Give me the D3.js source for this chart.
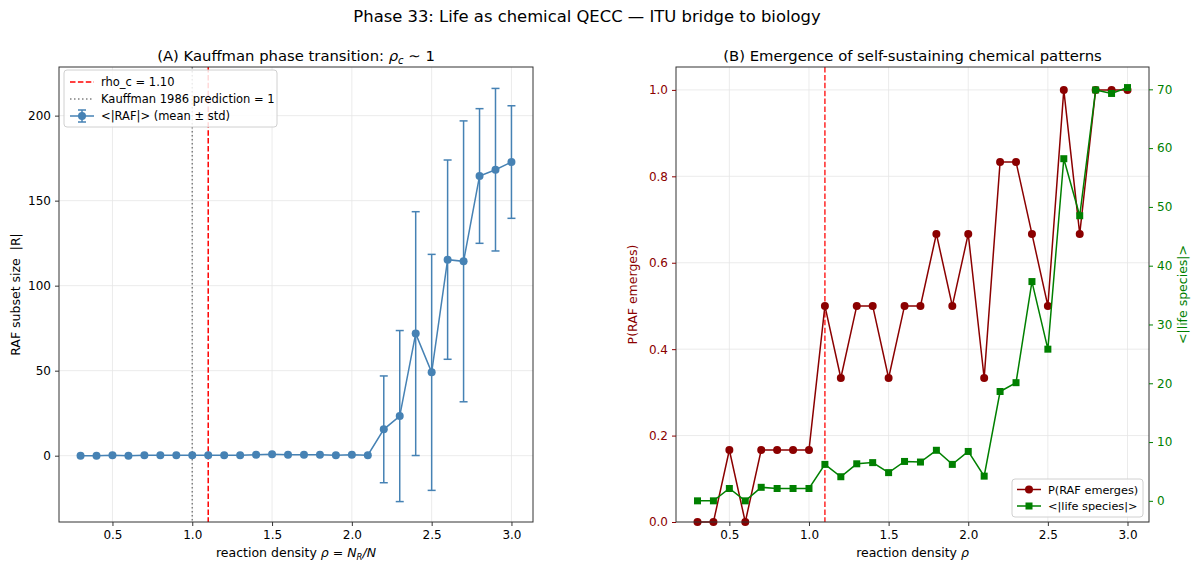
<!DOCTYPE html>
<html>
<head>
<meta charset="utf-8">
<script src="https://cdn.jsdelivr.net/npm/d3@7"></script>
<style>
  body { margin: 0; background: #fff; }
  svg text { font-family: "DejaVu Sans", sans-serif; }
</style>
</head>
<body>
<div id="chart"></div>
<script>
// ---- data ----
var rho = [0.3, 0.4, 0.5, 0.6, 0.7, 0.8, 0.9, 1.0, 1.1, 1.2, 1.3, 1.4, 1.5, 1.6,
           1.7, 1.8, 1.9, 2.0, 2.1, 2.2, 2.3, 2.4, 2.5, 2.6, 2.7, 2.8, 2.9, 3.0];

// panel A: mean RAF size and std
var rafMean = [0, 0, 0.2, 0, 0.3, 0.3, 0.3, 0.3, 0.3, 0.3, 0.3, 0.6, 0.8, 0.6,
               0.6, 0.6, 0.3, 0.5, 0.3, 15.5, 23.3, 71.8, 49, 115.3, 114.3, 164.5, 168.2, 172.7];
var rafStd  = [0, 0, 0, 0, 0, 0, 0, 0, 0, 0, 0, 0, 0, 0,
               0, 0, 0, 0, 0, 31.4, 50.3, 71.7, 69.4, 58.6, 82.6, 39.6, 47.8, 33.1];

// panel B: emergence probability and life species count
var pEmerge = [0, 0, 1/6, 0, 1/6, 1/6, 1/6, 1/6, 0.5, 1/3, 0.5, 0.5, 1/3, 0.5,
               0.5, 2/3, 0.5, 2/3, 1/3, 5/6, 5/6, 2/3, 0.5, 1, 2/3, 1, 1, 1];
var lifeSpecies = [0, 0, 2.1, 0, 2.3, 2.1, 2.1, 2.1, 6.2, 4.1, 6.3, 6.5, 4.8, 6.7,
                   6.6, 8.6, 6.2, 8.4, 4.2, 18.6, 20.1, 37.3, 25.8, 58.2, 48.5, 69.9, 69.3, 70.3];

var rhoC = 1.10;
var rhoKauffman = 1.0;
var xTicks = [0.5, 1.0, 1.5, 2.0, 2.5, 3.0];
var yTicksA = [0, 50, 100, 150, 200];
var yTicksP = [0.0, 0.2, 0.4, 0.6, 0.8, 1.0];
var yTicksLife = [0, 10, 20, 30, 40, 50, 60, 70];

// ---- layout ----
var W = 1200, H = 573;
var svg = d3.select("#chart").append("svg")
  .attr("width", W)
  .attr("height", H);

var blue = "#4682b4", darkred = "#8b0000", green = "#008000";
var gridColor = "#e6e6e6";

svg.append("text")
  .attr("x", 587).attr("y", 22)
  .attr("text-anchor", "middle")
  .attr("font-size", 16.4)
  .text("Phase 33: Life as chemical QECC \u2014 ITU bridge to biology");

var A = {left: 59, right: 533, top: 67, bottom: 522};
var B = {left: 676, right: 1149, top: 67, bottom: 522};

var xDom = [0.165, 3.135];

// ================= panel A =================
var xA = d3.scaleLinear().domain(xDom).range([A.left, A.right]);
var yA = d3.scaleLinear().domain([-39, 228.6]).range([A.bottom, A.top]);

var gA = svg.append("g");

// grid
gA.selectAll(".gx").data(xTicks).enter().append("line")
  .attr("x1", d => xA(d)).attr("x2", d => xA(d))
  .attr("y1", A.top).attr("y2", A.bottom)
  .attr("stroke", gridColor).attr("stroke-width", 0.8);
gA.selectAll(".gy").data(yTicksA).enter().append("line")
  .attr("x1", A.left).attr("x2", A.right)
  .attr("y1", d => yA(d)).attr("y2", d => yA(d))
  .attr("stroke", gridColor).attr("stroke-width", 0.8);

// reference lines
gA.append("line")
  .attr("x1", xA(rhoKauffman)).attr("x2", xA(rhoKauffman))
  .attr("y1", A.top).attr("y2", A.bottom)
  .attr("stroke", "gray").attr("stroke-width", 1.5)
  .attr("stroke-dasharray", "1.5,2.5");
gA.append("line")
  .attr("x1", xA(rhoC)).attr("x2", xA(rhoC))
  .attr("y1", A.top).attr("y2", A.bottom)
  .attr("stroke", "red").attr("stroke-width", 1.5)
  .attr("stroke-dasharray", "5.5,2.4");

// error bars
var ptsA = rho.map((r, i) => ({x: r, y: rafMean[i], s: rafStd[i]}));
var errA = gA.selectAll(".err").data(ptsA.filter(d => d.s > 0)).enter().append("g");
errA.append("line")
  .attr("x1", d => xA(d.x)).attr("x2", d => xA(d.x))
  .attr("y1", d => yA(d.y - d.s)).attr("y2", d => yA(d.y + d.s))
  .attr("stroke", blue).attr("stroke-width", 1.5);
[-1, 1].forEach(function(sg) {
  errA.append("line")
    .attr("x1", d => xA(d.x) - 4).attr("x2", d => xA(d.x) + 4)
    .attr("y1", d => yA(d.y + sg * d.s)).attr("y2", d => yA(d.y + sg * d.s))
    .attr("stroke", blue).attr("stroke-width", 1.5);
});

gA.append("path")
  .datum(ptsA)
  .attr("d", d3.line().x(d => xA(d.x)).y(d => yA(d.y)))
  .attr("fill", "none").attr("stroke", blue).attr("stroke-width", 1.5);
gA.selectAll(".dot").data(ptsA).enter().append("circle")
  .attr("cx", d => xA(d.x)).attr("cy", d => yA(d.y))
  .attr("r", 4).attr("fill", blue);

// frame
gA.append("rect")
  .attr("x", A.left).attr("y", A.top)
  .attr("width", A.right - A.left).attr("height", A.bottom - A.top)
  .attr("fill", "none").attr("stroke", "#333").attr("stroke-width", 1);

// axes
var axA = gA.append("g").attr("transform", "translate(0," + A.bottom + ")")
  .call(d3.axisBottom(xA).tickValues(xTicks).tickFormat(d3.format(".1f")).tickSize(4).tickPadding(4));
var ayA = gA.append("g").attr("transform", "translate(" + A.left + ",0)")
  .call(d3.axisLeft(yA).tickValues(yTicksA).tickSize(4).tickPadding(4));
[axA, ayA].forEach(function(a) {
  a.select(".domain").remove();
  a.selectAll("text").attr("font-size", 12).attr("fill", "#000")
    .style("font-family", "DejaVu Sans, sans-serif");
  a.selectAll("line").attr("stroke", "#333");
});

// titles and labels
var tA = svg.append("text")
  .attr("x", (A.left + A.right) / 2).attr("y", 61)
  .attr("text-anchor", "middle").attr("font-size", 14.8);
tA.append("tspan").text("(A) Kauffman phase transition: ");
tA.append("tspan").attr("font-style", "italic").text("\u03c1");
tA.append("tspan").attr("font-style", "italic").attr("font-size", 10).attr("dy", 3).text("c");
tA.append("tspan").attr("dy", -3).text(" \u223c 1");

var xlA = svg.append("text")
  .attr("x", (A.left + A.right) / 2).attr("y", 557)
  .attr("text-anchor", "middle").attr("font-size", 12.5);
xlA.append("tspan").text("reaction density ");
xlA.append("tspan").attr("font-style", "italic").text("\u03c1");
xlA.append("tspan").text(" = ");
xlA.append("tspan").attr("font-style", "italic").text("N");
xlA.append("tspan").attr("font-style", "italic").attr("font-size", 8.5).attr("dy", 3).text("R");
xlA.append("tspan").attr("dy", -3).attr("font-style", "italic").text("/N");

svg.append("text")
  .attr("transform", "translate(20," + ((A.top + A.bottom) / 2) + ") rotate(-90)")
  .attr("text-anchor", "middle").attr("font-size", 12.5)
  .attr("xml:space", "preserve")
  .text("RAF subset size  |R|");

// legend A
var legA = svg.append("g").attr("transform", "translate(64,70)");
legA.append("rect").attr("width", 213).attr("height", 57).attr("rx", 3)
  .attr("fill", "#fff").attr("fill-opacity", 0.85)
  .attr("stroke", "#d0d0d0").attr("stroke-width", 1);
var legItemsA = [
  {label: "rho_c = 1.10", color: "red", dash: "5.5,2.4", marker: false},
  {label: "Kauffman 1986 prediction = 1", color: "gray", dash: "1.5,2.5", marker: false},
  {label: "<|RAF|> (mean \u00b1 std)", color: blue, dash: null, marker: true}
];
legItemsA.forEach(function(it, i) {
  var yy = 12 + i * 17;
  legA.append("line").attr("x1", 6).attr("x2", 30).attr("y1", yy).attr("y2", yy)
    .attr("stroke", it.color).attr("stroke-width", 1.5)
    .attr("stroke-dasharray", it.dash);
  if (it.marker) {
    legA.append("line").attr("x1", 18).attr("x2", 18).attr("y1", yy - 6).attr("y2", yy + 6)
      .attr("stroke", it.color).attr("stroke-width", 1.5);
    [-6, 6].forEach(function(o) {
      legA.append("line").attr("x1", 14).attr("x2", 22).attr("y1", yy + o).attr("y2", yy + o)
        .attr("stroke", it.color).attr("stroke-width", 1.5);
    });
    legA.append("circle").attr("cx", 18).attr("cy", yy).attr("r", 4).attr("fill", it.color);
  }
  legA.append("text").attr("x", 37).attr("y", yy + 4).attr("font-size", 11.5)
    .text(it.label);
});

// ================= panel B =================
var xB = d3.scaleLinear().domain(xDom).range([B.left, B.right]);
var yP = d3.scaleLinear().domain([0, 1.053]).range([B.bottom, B.top]);
var yL = d3.scaleLinear().domain([-3.6, 73.8]).range([B.bottom, B.top]);

var gB = svg.append("g");

gB.selectAll(".gx").data(xTicks).enter().append("line")
  .attr("x1", d => xB(d)).attr("x2", d => xB(d))
  .attr("y1", B.top).attr("y2", B.bottom)
  .attr("stroke", gridColor).attr("stroke-width", 0.8);
gB.selectAll(".gy").data(yTicksP).enter().append("line")
  .attr("x1", B.left).attr("x2", B.right)
  .attr("y1", d => yP(d)).attr("y2", d => yP(d))
  .attr("stroke", gridColor).attr("stroke-width", 0.8);

gB.append("line")
  .attr("x1", xB(rhoC)).attr("x2", xB(rhoC))
  .attr("y1", B.top).attr("y2", B.bottom)
  .attr("stroke", "red").attr("stroke-width", 1.5).attr("stroke-opacity", 0.85)
  .attr("stroke-dasharray", "5.5,2.4");

var ptsP = rho.map((r, i) => ({x: r, y: pEmerge[i]}));
gB.append("path")
  .datum(ptsP)
  .attr("d", d3.line().x(d => xB(d.x)).y(d => yP(d.y)))
  .attr("fill", "none").attr("stroke", darkred).attr("stroke-width", 1.5);
gB.selectAll(".pdot").data(ptsP).enter().append("circle")
  .attr("cx", d => xB(d.x)).attr("cy", d => yP(d.y))
  .attr("r", 4).attr("fill", darkred);

var ptsL = rho.map((r, i) => ({x: r, y: lifeSpecies[i]}));
gB.append("path")
  .datum(ptsL)
  .attr("d", d3.line().x(d => xB(d.x)).y(d => yL(d.y)))
  .attr("fill", "none").attr("stroke", green).attr("stroke-width", 1.5);
gB.selectAll(".ldot").data(ptsL).enter().append("rect")
  .attr("x", d => xB(d.x) - 3.5).attr("y", d => yL(d.y) - 3.5)
  .attr("width", 7).attr("height", 7).attr("fill", green);

gB.append("rect")
  .attr("x", B.left).attr("y", B.top)
  .attr("width", B.right - B.left).attr("height", B.bottom - B.top)
  .attr("fill", "none").attr("stroke", "#333").attr("stroke-width", 1);

var axB = gB.append("g").attr("transform", "translate(0," + B.bottom + ")")
  .call(d3.axisBottom(xB).tickValues(xTicks).tickFormat(d3.format(".1f")).tickSize(4).tickPadding(4));
var ayP = gB.append("g").attr("transform", "translate(" + B.left + ",0)")
  .call(d3.axisLeft(yP).tickValues(yTicksP).tickFormat(d3.format(".1f")).tickSize(4).tickPadding(4));
var ayL = gB.append("g").attr("transform", "translate(" + B.right + ",0)")
  .call(d3.axisRight(yL).tickValues(yTicksLife).tickSize(4).tickPadding(4));
[[axB, "#000", "#333"], [ayP, darkred, darkred], [ayL, green, green]].forEach(function(p) {
  p[0].select(".domain").remove();
  p[0].selectAll("text").attr("font-size", 12).attr("fill", p[1])
    .style("font-family", "DejaVu Sans, sans-serif");
  p[0].selectAll("line").attr("stroke", p[2]);
});

svg.append("text")
  .attr("x", (B.left + B.right) / 2).attr("y", 61)
  .attr("text-anchor", "middle").attr("font-size", 14.8)
  .text("(B) Emergence of self-sustaining chemical patterns");

var xlB = svg.append("text")
  .attr("x", (B.left + B.right) / 2).attr("y", 557)
  .attr("text-anchor", "middle").attr("font-size", 12.5);
xlB.append("tspan").text("reaction density ");
xlB.append("tspan").attr("font-style", "italic").text("\u03c1");

svg.append("text")
  .attr("transform", "translate(637," + ((B.top + B.bottom) / 2) + ") rotate(-90)")
  .attr("text-anchor", "middle").attr("font-size", 12.5).attr("fill", darkred)
  .text("P(RAF emerges)");
svg.append("text")
  .attr("transform", "translate(1187," + ((B.top + B.bottom) / 2) + ") rotate(-90)")
  .attr("text-anchor", "middle").attr("font-size", 12.5).attr("fill", green)
  .text("<|life species|>");

// legend B
var legB = svg.append("g").attr("transform", "translate(1012,479)");
legB.append("rect").attr("width", 131).attr("height", 38).attr("rx", 3)
  .attr("fill", "#fff").attr("fill-opacity", 0.85)
  .attr("stroke", "#d0d0d0").attr("stroke-width", 1);
var legItemsB = [
  {label: "P(RAF emerges)", color: darkred, shape: "circle"},
  {label: "<|life species|>", color: green, shape: "square"}
];
legItemsB.forEach(function(it, i) {
  var yy = 10.5 + i * 16.5;
  legB.append("line").attr("x1", 5).attr("x2", 29).attr("y1", yy).attr("y2", yy)
    .attr("stroke", it.color).attr("stroke-width", 1.5);
  if (it.shape === "circle") {
    legB.append("circle").attr("cx", 17).attr("cy", yy).attr("r", 4).attr("fill", it.color);
  } else {
    legB.append("rect").attr("x", 13.5).attr("y", yy - 3.5).attr("width", 7).attr("height", 7)
      .attr("fill", it.color);
  }
  legB.append("text").attr("x", 36).attr("y", yy + 4).attr("font-size", 11.3)
    .text(it.label);
});
</script>
</body>
</html>
